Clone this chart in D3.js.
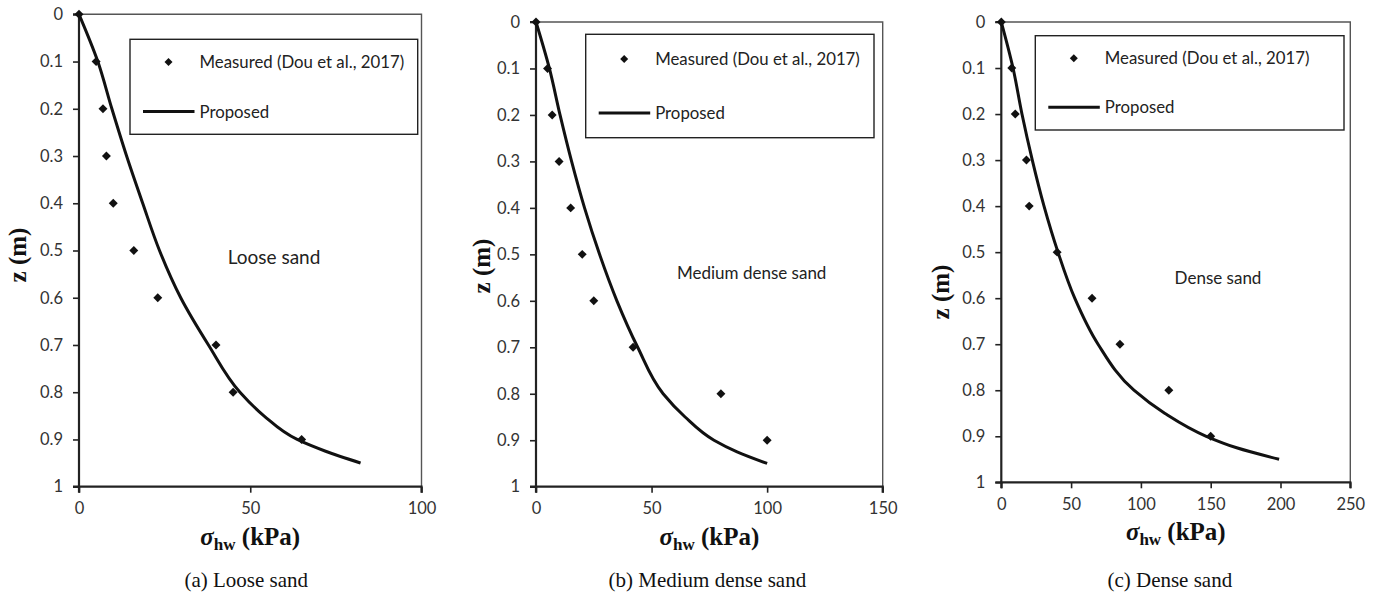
<!DOCTYPE html>
<html>
<head>
<meta charset="utf-8">
<script src="https://cdn.jsdelivr.net/npm/d3@7"></script>
<style>
  html, body { margin: 0; padding: 0; background: #fff; }
  svg { display: block; }
</style>
</head>
<body>
<script>
// data
const depths = [0, 0.1, 0.2, 0.3, 0.4, 0.5, 0.6, 0.7, 0.8, 0.9];
const looseMeasured = [0, 5, 7, 8, 10, 16, 23, 40, 45, 65];
const mediumMeasured = [0, 5, 7, 10, 15, 20, 25, 42, 80, 100];
const denseMeasured = [0, 7.5, 10, 18, 20, 40, 65, 85, 120, 150];

const curveDepths = [0, 0.1, 0.2, 0.3, 0.4, 0.5, 0.6, 0.7, 0.8, 0.85, 0.9, 0.925, 0.95];
const looseProposed = [0, 5.5, 9.6, 13.9, 18.6, 23.5, 29.7, 37.8, 47, 54, 63.7, 72, 82.2];
const mediumProposed = [0, 5.8, 10.4, 15.4, 21, 27.5, 35, 44, 55, 64.5, 77, 87, 100];
const denseProposed = [0, 8.4, 14.8, 22.2, 30.6, 40.6, 52.6, 69.3, 95, 117, 146.8, 168.6, 199];

const yTicks = [0, 0.1, 0.2, 0.3, 0.4, 0.5, 0.6, 0.7, 0.8, 0.9, 1];
const looseXTicks = [0, 50, 100];
const mediumXTicks = [0, 50, 100, 150];
const denseXTicks = [0, 50, 100, 150, 200, 250];

const seriesNames = ["Measured (Dou et al., 2017)", "Proposed"];
const sandLabels = ["Loose sand", "Medium dense sand", "Dense sand"];
const captions = ["(a) Loose sand", "(b) Medium dense sand", "(c) Dense sand"];

// layout of the three panels
const panels = [
  { left: 79, right: 421.5, top: 14.3, bottom: 486.7, xTicks: looseXTicks,
    measured: looseMeasured, proposed: looseProposed,
    legend: { x0: 130, x1: 417.7, y0: 39.3, y1: 134.3 },
    note: { x: 274, y: 264, size: 19 }, zTitle: { x: 18, y: 255 }, captionDx: -4 },
  { left: 536, right: 882.7, top: 22, bottom: 486.7, xTicks: mediumXTicks,
    measured: mediumMeasured, proposed: mediumProposed,
    legend: { x0: 585.7, x1: 874, y0: 34.3, y1: 137.7 },
    note: { x: 751.7, y: 279, size: 17 }, zTitle: { x: 481.7, y: 266 }, captionDx: -2 },
  { left: 1001.3, right: 1350.3, top: 22, bottom: 482.3, xTicks: denseXTicks,
    measured: denseMeasured, proposed: denseProposed,
    legend: { x0: 1035.3, x1: 1344, y0: 35.7, y1: 130 },
    note: { x: 1218, y: 283.5, size: 17 }, zTitle: { x: 940.7, y: 292 }, captionDx: -6 }
];

const width = 1378;
const height = 593;
const sansFont = "Lato, 'Open Sans', sans-serif";
const serifFont = "'Liberation Serif', 'Times New Roman', serif";

const svg = d3.select("body").append("svg")
  .attr("width", width).attr("height", height);

const diamond = d3.symbol().type(d3.symbolSquare).size(40);

panels.forEach((p, i) => {
  const xMax = d3.max(p.xTicks);
  const x = d3.scaleLinear().domain([0, xMax]).range([p.left, p.right]);
  const y = d3.scaleLinear().domain([0, 1]).range([p.top, p.bottom]);
  const g = svg.append("g");

  // top and right frame
  g.append("path")
    .attr("d", `M${p.left},${p.top}H${p.right}V${p.bottom}`)
    .attr("fill", "none").attr("stroke", "#555").attr("stroke-width", 1.4);

  // axes
  const yAxis = g.append("g")
    .attr("transform", `translate(${p.left},0)`)
    .call(d3.axisLeft(y).tickValues(yTicks).tickFormat(d3.format("~g")).tickSize(6).tickPadding(10));
  const xAxis = g.append("g")
    .attr("transform", `translate(0,${p.bottom})`)
    .call(d3.axisBottom(x).tickValues(p.xTicks).tickSize(6).tickPadding(10));

  [yAxis, xAxis].forEach(ax => {
    ax.select(".domain").attr("stroke", "#222").attr("stroke-width", 2.2);
    ax.selectAll(".tick line").attr("stroke", "#222").attr("stroke-width", 1.6);
    ax.selectAll(".tick text").attr("fill", "#333")
      .style("font-family", sansFont).style("font-size", "16.5px");
  });
  xAxis.select(".domain").attr("d", `M${p.left},6V0H${p.right}V6`);
  yAxis.select(".domain").attr("d", `M-6,${p.top}H0V${p.bottom}H-6`);

  // proposed curve
  const pts = curveDepths.map((z, k) => [p.proposed[k], z]);
  g.append("path")
    .datum(pts)
    .attr("fill", "none").attr("stroke", "#111").attr("stroke-width", 3)
    .attr("stroke-linejoin", "round")
    .attr("d", d3.line().curve(d3.curveMonotoneY).x(d => x(d[0])).y(d => y(d[1])));

  // measured points
  g.append("g").selectAll("path").data(depths).enter().append("path")
    .attr("d", diamond)
    .attr("transform", (z, k) => `translate(${x(p.measured[k])},${y(z)}) rotate(45)`)
    .attr("fill", "#111");

  // legend
  const L = p.legend;
  g.append("rect")
    .attr("x", L.x0).attr("y", L.y0)
    .attr("width", L.x1 - L.x0).attr("height", L.y1 - L.y0)
    .attr("fill", "#fff").attr("stroke", "#222").attr("stroke-width", 1.4);
  const row1 = L.y0 + 0.24 * (L.y1 - L.y0);
  const row2 = L.y0 + 0.76 * (L.y1 - L.y0);
  g.append("path").attr("d", d3.symbol().type(d3.symbolSquare).size(32))
    .attr("transform", `translate(${L.x0 + 38.5},${row1}) rotate(45)`)
    .attr("fill", "#111");
  g.append("line")
    .attr("x1", L.x0 + 13).attr("x2", L.x0 + 64.5)
    .attr("y1", row2).attr("y2", row2)
    .attr("stroke", "#111").attr("stroke-width", 3);
  g.selectAll("text.leg").data(seriesNames).enter().append("text")
    .attr("class", "leg")
    .attr("x", L.x0 + 69.5)
    .attr("y", (d, k) => (k === 0 ? row1 : row2) + 6)
    .attr("fill", "#222")
    .style("font-family", sansFont).style("font-size", "16.8px")
    .text(d => d);

  // sand type note
  g.append("text")
    .attr("x", p.note.x).attr("y", p.note.y)
    .attr("text-anchor", "middle").attr("fill", "#222")
    .style("font-family", sansFont).style("font-size", p.note.size + "px")
    .text(sandLabels[i]);

  // y title
  g.append("text")
    .attr("transform", `translate(${p.zTitle.x + 8},${p.zTitle.y}) rotate(-90)`)
    .attr("text-anchor", "middle").attr("fill", "#111")
    .style("font-family", serifFont).style("font-size", "25px").style("font-weight", "bold")
    .text("z (m)");

  // x title
  const cx = (p.left + p.right) / 2;
  const xt = g.append("text")
    .attr("x", cx).attr("y", p.bottom + 58)
    .attr("text-anchor", "middle").attr("fill", "#111")
    .style("font-family", serifFont).style("font-size", "25px").style("font-weight", "bold");
  xt.append("tspan").style("font-style", "italic").text("σ");
  xt.append("tspan").attr("dy", 5).style("font-size", "17px").text("hw");
  xt.append("tspan").attr("dy", -5).text(" (kPa)");

  // caption
  g.append("text")
    .attr("x", cx + p.captionDx).attr("y", 587)
    .attr("text-anchor", "middle").attr("fill", "#111")
    .style("font-family", serifFont).style("font-size", "21px")
    .text(captions[i]);
});
</script>
</body>
</html>
